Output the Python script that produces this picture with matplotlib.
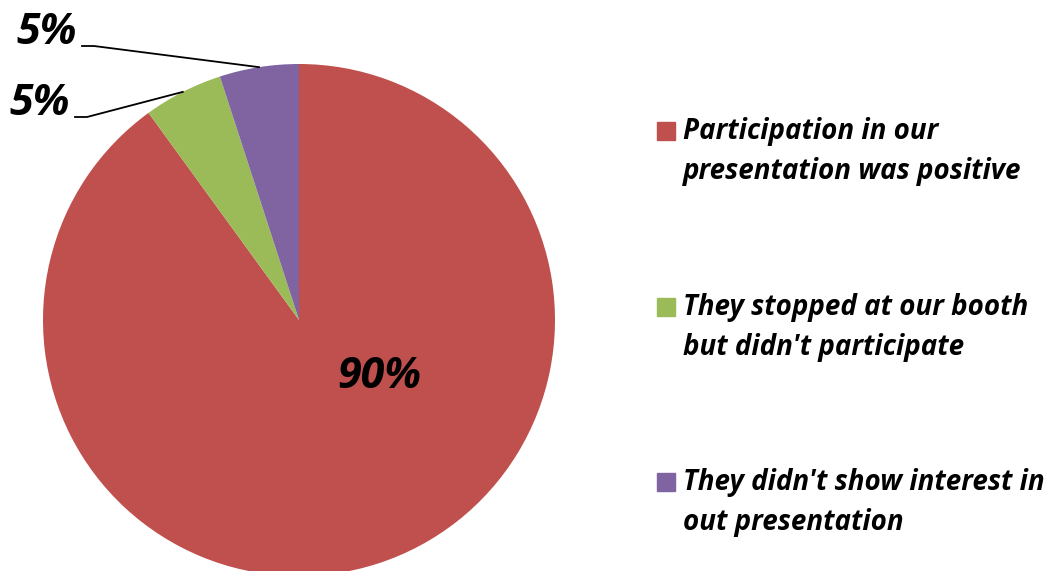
import numpy as np
import matplotlib
matplotlib.use("Agg")
import matplotlib.pyplot as plt
from matplotlib.patches import Rectangle

# survey answers, share in percent
labels = ["Participation in our\npresentation was positive",
          "They stopped at our booth\nbut didn't participate",
          "They didn't show interest in\nout presentation"]
shares = [90, 5, 5]
colors = ["#C0504D", "#9BBB59", "#8064A2"]

plt.rcParams['font.family'] = ['Open Sans', 'DejaVu Sans']

W, H = 1054, 571
fig = plt.figure(figsize=(W / 100, H / 100), dpi=100)
ax = fig.add_axes([0, 0, 1, 1])

cx, cy, r = 299, H - 320, 256
wedges, _ = ax.pie(shares, colors=colors, startangle=90, counterclock=False,
                   radius=r, center=(cx, cy), frame=True,
                   wedgeprops=dict(linewidth=0))
ax.set_xlim(0, W)
ax.set_ylim(0, H)
ax.set_aspect('equal')
ax.axis('off')

font = dict(fontweight='bold', fontstyle='italic', color='black')

# big label inside the red slice
ax.text(379, H - 388, f"{shares[0]}%", ha='center', va='baseline', fontsize=31, **font)

# small slices: label outside with a leader line to the slice middle
label_pos = [None, (70, H - 115), (77, H - 44)]
for i in (1, 2):
    w = wedges[i]
    mid = np.deg2rad((w.theta1 + w.theta2) / 2)
    px, py = cx + r * np.cos(mid), cy + r * np.sin(mid)
    lx, ly = label_pos[i]
    ax.text(lx, ly, f"{shares[i]}%", ha='right', va='baseline', fontsize=31, **font)
    ax.plot([lx + 5, lx + 17, px], [ly - 2, ly - 2, py], color='black', lw=1.3)

# legend on the right
for i, (lab, col) in enumerate(zip(labels, colors)):
    base = 140 + 175.5 * i
    ax.add_patch(Rectangle((657, H - base), 18, 18, color=col))
    ax.text(683, H - base - 39, lab, ha='left', va='baseline', fontsize=20,
            linespacing=1.5, **font)

fig.savefig("out.png", dpi=100)
